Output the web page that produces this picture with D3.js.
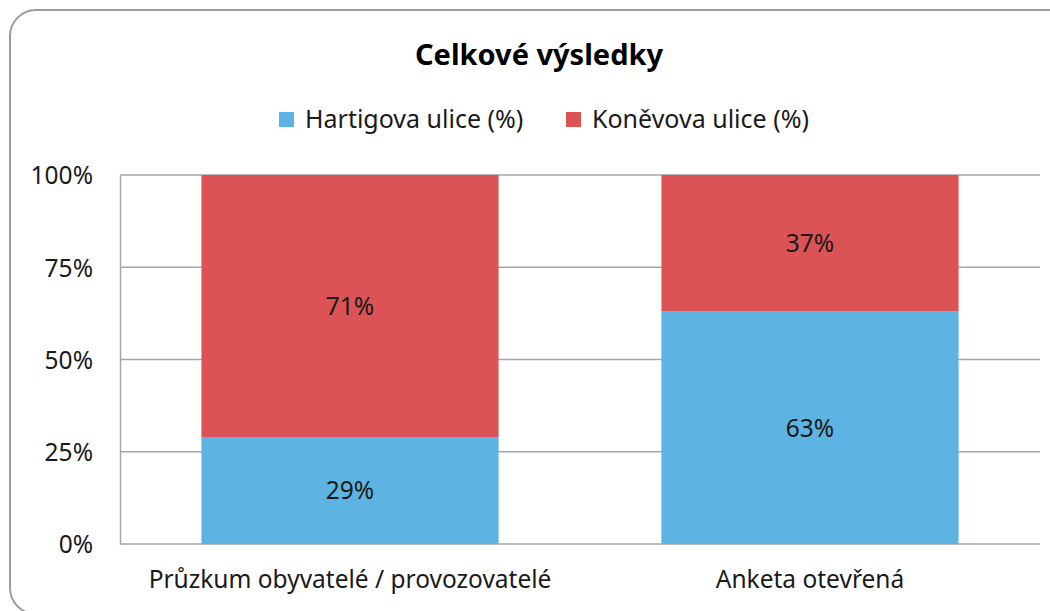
<!DOCTYPE html>
<html>
<head>
<meta charset="UTF-8" />
<title>Celkové výsledky</title>
<script src="https://d3js.org/d3.v7.min.js"></script>
<style>
	body { margin: 0; background: #fff; }
	text { font-family: "Noto Sans", "Open Sans", sans-serif; fill: #1a1a1a; }
</style>
</head>
<body>
<div id="chart"></div>
<script type="text/javascript">

	// data
	var categories = ["Průzkum obyvatelé / provozovatelé", "Anketa otevřená"];
	var seriesNames = ["Hartigova ulice (%)", "Koněvova ulice (%)"];
	var hartigova = [29, 63];
	var konevova = [71, 37];
	var yTicks = [0, 25, 50, 75, 100];
	var colors = ["#5db4e3", "#dc5356"];

	var W = 1050, H = 611;
	var margin = {top: 175, right: 10, bottom: 67, left: 120},
		width = 1040 - margin.left,
		height = 544 - margin.top;

	var svg = d3.select("#chart").append("svg")
		.attr("width", W)
		.attr("height", H);

	// outer frame
	svg.append("rect")
		.attr("x", 10).attr("y", 10)
		.attr("width", 1070).attr("height", 604)
		.attr("rx", 26).attr("ry", 26)
		.attr("fill", "#fff")
		.attr("stroke", "#9a9a9a")
		.attr("stroke-width", 2);

	svg.append("text")
		.attr("x", 539).attr("y", 65)
		.attr("text-anchor", "middle")
		.style("font-size", "29px")
		.style("font-weight", "bold")
		.style("fill", "#000")
		.text("Celkové výsledky");

	// legend
	var legendX = [279, 566];
	var legend = svg.selectAll("g.legend")
		.data(seriesNames)
		.enter().append("g")
			.attr("class", "legend")
			.attr("transform", function(d, i) { return "translate(" + legendX[i] + ",112)"; });
	legend.append("rect")
		.attr("width", 15).attr("height", 15)
		.attr("fill", function(d, i) { return colors[i]; });
	legend.append("text")
		.attr("x", 26).attr("y", 16)
		.style("font-size", "25px")
		.text(function(d) { return d; });

	var g = svg.append("g")
		.attr("transform", "translate(" + margin.left + "," + margin.top + ")");

	var x = d3.scaleBand()
		.domain(categories)
		.range([0, width])
		.paddingInner(0.354)
		.paddingOuter(0.177);

	var y = d3.scaleLinear()
		.domain([0, 100])
		.range([height, 0]);

	// gridlines
	g.selectAll("line.grid")
		.data(yTicks)
		.enter().append("line")
			.attr("class", "grid")
			.attr("x1", 0).attr("x2", width)
			.attr("y1", function(d) { return y(d); })
			.attr("y2", function(d) { return y(d); })
			.attr("stroke", "#a6a6a6")
			.attr("stroke-width", 1.5);

	// y axis
	var yAxis = g.append("g")
		.call(d3.axisLeft(y).tickValues(yTicks).tickSize(0).tickPadding(27)
			.tickFormat(function(d) { return d + "%"; }));
	yAxis.select(".domain").attr("stroke", "#a6a6a6").attr("stroke-width", 1.5);
	yAxis.selectAll("text")
		.style("font-size", "24.5px")
		.attr("dy", "0.36em");

	// stacked bars
	var rows = categories.map(function(c, i) {
		return {cat: c, h: hartigova[i], k: konevova[i]};
	});
	var stack = d3.stack().keys(["h", "k"]);
	var layers = stack(rows);

	var layer = g.selectAll("g.layer")
		.data(layers)
		.enter().append("g")
			.attr("class", "layer")
			.attr("fill", function(d, i) { return colors[i]; });

	layer.selectAll("rect")
		.data(function(d) { return d; })
		.enter().append("rect")
			.attr("x", function(d) { return x(d.data.cat); })
			.attr("y", function(d) { return y(d[1]); })
			.attr("width", x.bandwidth())
			.attr("height", function(d) { return y(d[0]) - y(d[1]); });

	layer.selectAll("text")
		.data(function(d) { return d; })
		.enter().append("text")
			.attr("x", function(d) { return x(d.data.cat) + x.bandwidth() / 2; })
			.attr("y", function(d) { return (y(d[0]) + y(d[1])) / 2; })
			.attr("dy", "0.36em")
			.attr("text-anchor", "middle")
			.style("font-size", "24.5px")
			.text(function(d) { return (d[1] - d[0]) + "%"; });

	// x axis
	var xAxis = g.append("g")
		.attr("transform", "translate(0," + height + ")")
		.call(d3.axisBottom(x).tickSize(0).tickPadding(27));
	xAxis.select(".domain").remove();
	xAxis.selectAll("text")
		.style("font-size", "24.5px");

</script>
</body>
</html>
